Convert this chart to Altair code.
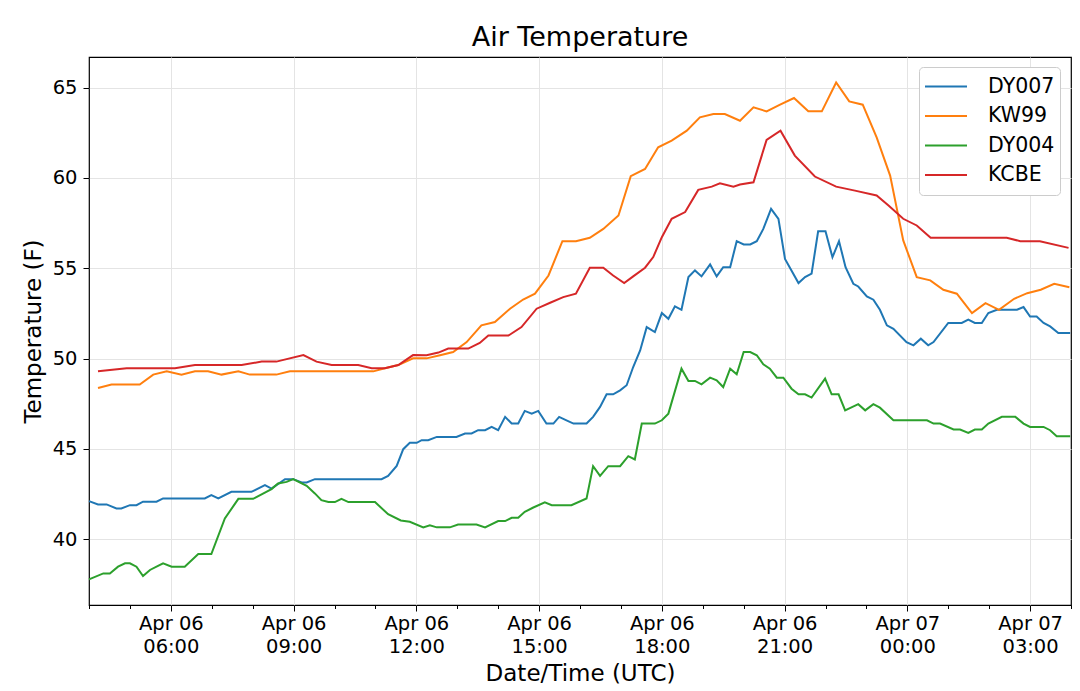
import altair as alt
import pandas as pd

# hours after 2019-04-06 00:00 UTC, temperature in F
DY007_HOURS = [
    4.00, 4.22, 4.43, 4.67, 4.79, 5.00, 5.16, 5.32, 5.65, 5.81, 6.83, 6.99, 7.16, 7.48,
    7.97, 8.30, 8.46, 8.79, 8.99, 9.20, 9.32, 9.52, 11.15, 11.31, 11.52, 11.68, 11.84,
    12.01, 12.13, 12.29, 12.50, 12.98, 13.19, 13.35, 13.51, 13.68, 13.84, 14.00, 14.17,
    14.33, 14.49, 14.65, 14.82, 14.98, 15.18, 15.35, 15.49, 15.67, 15.84, 16.16, 16.32,
    16.49, 16.65, 16.81, 16.98, 17.14, 17.30, 17.47, 17.63, 17.83, 18.00, 18.16, 18.32,
    18.48, 18.65, 18.81, 18.97, 19.18, 19.34, 19.50, 19.67, 19.83, 20.00, 20.16, 20.32,
    20.48, 20.67, 20.85, 21.01, 21.34, 21.50, 21.66, 21.82, 22.00, 22.17, 22.33, 22.49,
    22.68, 22.80, 23.01, 23.17, 23.33, 23.50, 23.66, 23.98, 24.15, 24.33, 24.51, 24.64,
    25.00, 25.33, 25.49, 25.65, 25.82, 25.98, 26.19, 26.68, 26.84, 27.00, 27.16, 27.33,
    27.49, 27.69, 27.98,
]
DY007_TEMPS = [
    42.10, 41.92, 41.92, 41.70, 41.70, 41.88, 41.88, 42.07, 42.07, 42.25, 42.25, 42.43,
    42.25, 42.62, 42.62, 42.99, 42.80, 43.32, 43.32, 43.14, 43.14, 43.32, 43.32, 43.50,
    44.05, 44.98, 45.33, 45.33, 45.48, 45.48, 45.66, 45.66, 45.85, 45.85, 46.03, 46.03,
    46.21, 46.03, 46.77, 46.40, 46.40, 47.10, 46.95, 47.10, 46.40, 46.40, 46.77, 46.58,
    46.40, 46.40, 46.77, 47.32, 48.02, 48.02, 48.24, 48.52, 49.53, 50.45, 51.74, 51.47,
    52.52, 52.20, 52.89, 52.70, 54.51, 54.88, 54.55, 55.21, 54.55, 55.06, 55.06, 56.50,
    56.32, 56.32, 56.50, 57.18, 58.29, 57.74, 55.52, 54.18, 54.51, 54.70, 57.05, 57.05,
    55.61, 56.50, 55.06, 54.14, 53.99, 53.44, 53.26, 52.70, 51.84, 51.65, 50.91, 50.73,
    51.10, 50.73, 50.91, 51.97, 51.97, 52.15, 51.97, 51.97, 52.52, 52.70, 52.70, 52.85,
    52.33, 52.33, 51.97, 51.78, 51.41, 51.41,
]

KW99_HOURS = [
    4.22, 4.55, 5.24, 5.57, 5.90, 6.26, 6.59, 6.91, 7.24, 7.65, 7.93, 8.58, 8.91, 10.95,
    11.23, 11.56, 11.92, 12.25, 12.58, 12.90, 13.23, 13.59, 13.92, 14.29, 14.61, 14.90,
    15.23, 15.57, 15.90, 16.24, 16.57, 16.94, 17.24, 17.59, 17.91, 18.24, 18.61, 18.93,
    19.26, 19.54, 19.91, 20.24, 20.56, 20.89, 21.23, 21.58, 21.91, 22.26, 22.58, 22.91,
    23.25, 23.58, 23.90, 24.23, 24.56, 24.88, 25.21, 25.58, 25.91, 26.24, 26.61, 26.93,
    27.26, 27.59, 27.96,
]
KW99_TEMPS = [
    48.37, 48.56, 48.56, 49.11, 49.29, 49.11, 49.29, 49.29, 49.11, 49.29, 49.11, 49.11,
    49.29, 49.29, 49.46, 49.64, 50.01, 50.01, 50.18, 50.36, 50.91, 51.84, 52.02, 52.76,
    53.27, 53.59, 54.60, 56.50, 56.50, 56.69, 57.18, 57.92, 60.10, 60.50, 61.70, 62.07,
    62.62, 63.36, 63.54, 63.54, 63.17, 63.91, 63.69, 64.06, 64.43, 63.69, 63.69, 65.29,
    64.24, 64.06, 62.25, 60.13, 56.54, 54.51, 54.33, 53.81, 53.59, 52.52, 53.07, 52.70,
    53.31, 53.62, 53.81, 54.14, 53.95,
]

DY004_HOURS = [
    4.00, 4.35, 4.51, 4.71, 4.88, 5.00, 5.16, 5.32, 5.49, 5.65, 5.81, 6.02, 6.34, 6.67,
    6.99, 7.32, 7.65, 8.01, 8.46, 8.62, 8.83, 8.99, 9.32, 9.52, 9.68, 9.85, 10.01, 10.17,
    10.34, 10.99, 11.31, 11.62, 11.84, 12.17, 12.33, 12.50, 12.82, 13.02, 13.47, 13.68,
    14.00, 14.17, 14.33, 14.49, 14.65, 14.86, 15.14, 15.31, 15.79, 16.16, 16.32, 16.49,
    16.69, 16.98, 17.18, 17.34, 17.51, 17.83, 18.00, 18.16, 18.48, 18.65, 18.81, 18.97,
    19.18, 19.34, 19.50, 19.67, 19.83, 20.00, 20.16, 20.32, 20.48, 20.64, 20.81, 20.97,
    21.17, 21.34, 21.50, 21.66, 21.99, 22.15, 22.32, 22.48, 22.80, 22.97, 23.17, 23.33,
    23.66, 24.48, 24.64, 24.80, 25.13, 25.29, 25.49, 25.65, 25.82, 25.98, 26.31, 26.64,
    26.84, 27.00, 27.33, 27.49, 27.65, 27.98,
]
DY004_TEMPS = [
    37.77, 38.10, 38.10, 38.47, 38.66, 38.66, 38.47, 37.95, 38.29, 38.47, 38.66, 38.47,
    38.47, 39.17, 39.17, 41.14, 42.23, 42.23, 42.77, 43.08, 43.17, 43.32, 42.95, 42.53,
    42.16, 42.05, 42.05, 42.23, 42.05, 42.05, 41.38, 41.03, 40.96, 40.65, 40.77, 40.65,
    40.65, 40.81, 40.81, 40.65, 41.00, 41.00, 41.18, 41.18, 41.51, 41.75, 42.03, 41.88,
    41.88, 42.25, 44.04, 43.50, 44.04, 44.04, 44.59, 44.41, 46.40, 46.40, 46.58, 46.95,
    49.44, 48.76, 48.76, 48.57, 48.94, 48.79, 48.42, 49.44, 49.13, 50.36, 50.36, 50.18,
    49.68, 49.44, 48.94, 48.94, 48.33, 48.02, 48.02, 47.84, 48.89, 48.02, 48.02, 47.13,
    47.47, 47.13, 47.47, 47.28, 46.58, 46.58, 46.40, 46.40, 46.07, 46.07, 45.88, 46.07,
    46.07, 46.40, 46.77, 46.77, 46.40, 46.21, 46.21, 46.03, 45.70, 45.70,
]

KCBE_HOURS = [
    4.22, 4.92, 6.10, 6.59, 7.73, 8.22, 8.58, 9.24, 9.56, 9.93, 10.58, 10.91, 11.23,
    11.56, 11.92, 12.25, 12.54, 12.78, 13.27, 13.55, 13.76, 14.25, 14.57, 14.94, 15.27,
    15.59, 15.90, 16.24, 16.57, 16.81, 17.08, 17.30, 17.59, 17.79, 18.00, 18.24, 18.57,
    18.89, 19.22, 19.42, 19.75, 19.91, 20.24, 20.56, 20.90, 21.25, 21.74, 22.26, 22.72,
    23.25, 23.54, 23.90, 24.23, 24.57, 26.43, 26.76, 27.24, 27.94,
]
KCBE_TEMPS = [
    49.29, 49.46, 49.46, 49.64, 49.64, 49.83, 49.83, 50.19, 49.83, 49.64, 49.64, 49.46,
    49.46, 49.64, 50.19, 50.18, 50.33, 50.55, 50.55, 50.86, 51.27, 51.27, 51.74, 52.76,
    53.09, 53.40, 53.59, 55.03, 55.03, 54.60, 54.18, 54.55, 55.03, 55.62, 56.72, 57.74,
    58.11, 59.34, 59.52, 59.71, 59.52, 59.64, 59.76, 62.11, 62.62, 61.24, 60.08, 59.52,
    59.30, 59.03, 58.47, 57.74, 57.37, 56.69, 56.69, 56.50, 56.50, 56.13,
]

STATIONS = ["DY007", "KW99", "DY004", "KCBE"]
COLORS = ["#1f77b4", "#ff7f0e", "#2ca02c", "#d62728"]
TICK_HOURS = list(range(4, 29))

series = {
    "DY007": (DY007_HOURS, DY007_TEMPS),
    "KW99": (KW99_HOURS, KW99_TEMPS),
    "DY004": (DY004_HOURS, DY004_TEMPS),
    "KCBE": (KCBE_HOURS, KCBE_TEMPS),
}

base = pd.Timestamp("2019-04-06 00:00")
frames = []
for name, (hours, temps) in series.items():
    t = base + pd.to_timedelta(hours, unit="h")
    frames.append(
        pd.DataFrame(
            {"time": t.strftime("%Y-%m-%dT%H:%M:%SZ"), "temp": temps, "station": name}
        )
    )
df = pd.concat(frames, ignore_index=True)


def utc(h):
    d = base + pd.Timedelta(hours=h)
    return alt.DateTime(year=d.year, month=d.month, date=d.day, hours=d.hour, utc=True)


major = "utchours(datum.value) % 3 == 0"

chart = (
    alt.Chart(df)
    .mark_line(strokeWidth=2)
    .encode(
        x=alt.X(
            "time:T",
            title="Date/Time (UTC)",
            scale=alt.Scale(type="utc", domain=[utc(4), utc(28)], nice=False),
            axis=alt.Axis(
                values=[utc(h) for h in TICK_HOURS],
                labelExpr=f"{major} ? [utcFormat(datum.value, '%b %d'), utcFormat(datum.value, '%H:%M')] : ''",
                labelOverlap=False,
                labelLineHeight=23,
                labelPadding=3,
                tickSize={"condition": {"test": major, "value": 6}, "value": 3.5},
                gridOpacity={"condition": {"test": major, "value": 1}, "value": 0},
                titlePadding=7,
            ),
        ),
        y=alt.Y(
            "temp:Q",
            title="Temperature (F)",
            scale=alt.Scale(domain=[36.35, 66.7], nice=False, zero=False),
            axis=alt.Axis(values=[40, 45, 50, 55, 60, 65], tickSize=6, labelPadding=6, titlePadding=7),
        ),
        color=alt.Color(
            "station:N",
            title=None,
            scale=alt.Scale(domain=STATIONS, range=COLORS),
            legend=alt.Legend(
                orient="none",
                legendX=830,
                legendY=10,
                symbolType="stroke",
                symbolSize=1764,
                symbolStrokeWidth=2,
                clipHeight=29,
                rowPadding=0.5,
                labelOffset=20,
                padding=5,
                fillColor="white",
                strokeColor="#cccccc",
                cornerRadius=4,
            ),
        ),
    )
    .properties(
        width=982,
        height=548,
        title=alt.TitleParams("Air Temperature", fontSize=27, fontWeight="normal", offset=-16, baseline="alphabetic"),
        autosize=alt.AutoSizeParams(type="none"),
        padding={"left": 81, "top": 49, "right": 1, "bottom": 84},
    )
    .configure(font="DejaVu Sans", background="white")
    .configure_view(stroke="black", strokeWidth=1.2)
    .configure_axis(
        domain=False,
        labelFontSize=19.5,
        labelColor="black",
        titleFontSize=23,
        titleFontWeight="normal",
        titleColor="black",
        tickColor="black",
        tickWidth=1,
        gridColor="#e4e4e4",
        gridWidth=1,
    )
    .configure_legend(labelFontSize=20.5, labelColor="black")
)

chart.save("out.html", embed_options={"renderer": "svg", "actions": False})
